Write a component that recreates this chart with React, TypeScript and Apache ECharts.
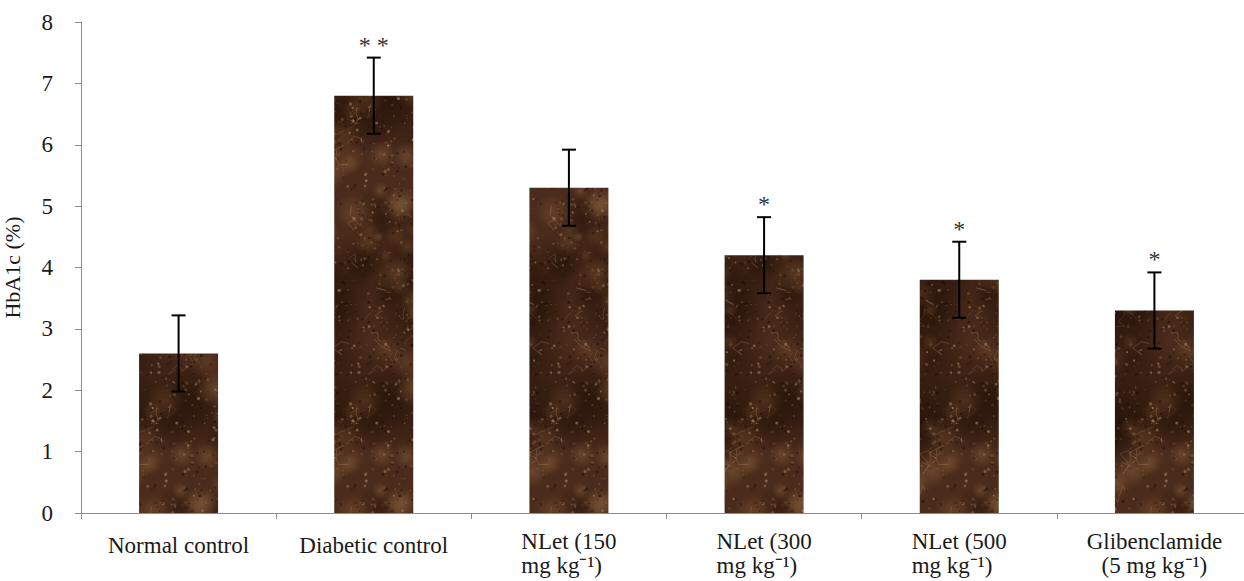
import React, { useEffect, useRef } from "react";
import * as echarts from "echarts";

const categories = [
  "Normal control",
  "Diabetic control",
  "NLet (150\nmg kg⁻¹)",
  "NLet (300\nmg kg⁻¹)",
  "NLet (500\nmg kg⁻¹)",
  "Glibenclamide\n(5 mg kg⁻¹)",
];
const labelLeftAligned = [false, false, true, true, true, false];
const means = [2.6, 6.8, 5.3, 4.2, 3.8, 3.3];
const errors = [0.62, 0.62, 0.62, 0.62, 0.62, 0.62];
const significance = ["", "**", "", "*", "*", "*"];
const yMin = 0;
const yMax = 8;
const yInterval = 1;
const yAxisTitle = "HbA1c (%)";

const FONT = "'Liberation Serif', 'Times New Roman', serif";

function hash(n: number): number {
  const s = Math.sin(n * 12.9898 + 78.233) * 43758.5453;
  return s - Math.floor(s);
}

function makeTexture(): HTMLCanvasElement {
  const c = document.createElement("canvas");
  c.width = 200;
  c.height = 300;
  const ctx = c.getContext("2d")!;
  ctx.fillStyle = "#4b2c1c";
  ctx.fillRect(0, 0, c.width, c.height);
  const blob = (x: number, y: number, r: number, rgb: string, a: number) => {
    for (const dx of [-c.width, 0, c.width]) {
      for (const dy of [-c.height, 0, c.height]) {
        const g = ctx.createRadialGradient(x + dx, y + dy, 0, x + dx, y + dy, r);
        g.addColorStop(0, `rgba(${rgb},${a})`);
        g.addColorStop(1, `rgba(${rgb},0)`);
        ctx.fillStyle = g;
        ctx.fillRect(x + dx - r, y + dy - r, r * 2, r * 2);
      }
    }
  };
  for (let i = 0; i < 30; i++) {
    blob(hash(i * 3.1) * c.width, hash(i * 7.7 + 1) * c.height, 18 + hash(i * 5.3 + 2) * 28, "34,16,7", 0.6);
  }
  for (let i = 0; i < 80; i++) {
    const v = hash(i * 6.7 + 40);
    const rgb = v > 0.6 ? "150,108,68" : "118,78,46";
    blob(hash(i * 2.3 + 50) * c.width, hash(i * 4.9 + 60) * c.height, 5 + hash(i * 3.7 + 70) * 14, rgb, 0.4);
  }
  for (let i = 0; i < 1200; i++) {
    const x = hash(i * 1.37 + 100) * c.width;
    const y = hash(i * 2.91 + 200) * c.height;
    const r = 0.5 + hash(i * 4.11 + 300) * 1.2;
    const v = hash(i * 6.7 + 400);
    const col = v > 0.75 ? "180,145,105" : v > 0.4 ? "125,86,55" : "28,12,5";
    ctx.fillStyle = `rgba(${col},${0.25 + hash(i + 500) * 0.35})`;
    ctx.beginPath();
    ctx.arc(x, y, r, 0, Math.PI * 2);
    ctx.fill();
  }
  ctx.lineWidth = 0.8;
  for (let i = 0; i < 45; i++) {
    let x = hash(i * 8.3 + 600) * c.width;
    let y = hash(i * 9.1 + 700) * c.height;
    ctx.strokeStyle = `rgba(170,135,95,${0.2 + hash(i + 950) * 0.25})`;
    ctx.beginPath();
    ctx.moveTo(x, y);
    for (let k = 0; k < 6; k++) {
      x += (hash(i * 13 + k * 3 + 800) - 0.5) * 20;
      y += (hash(i * 17 + k * 5 + 900) - 0.5) * 20;
      ctx.lineTo(x, y);
    }
    ctx.stroke();
  }
  return c;
}

export default function App() {
  const ref = useRef<HTMLDivElement>(null);
  useEffect(() => {
    if (!ref.current) return;
    const chart = echarts.init(ref.current, undefined, { renderer: "svg" });
    const tex = makeTexture();
    const labelStyle = { fontFamily: FONT, fontSize: 23, lineHeight: 24, color: "#1a1a1a" };
    const option: any = {
      animation: false,
      backgroundColor: "#ffffff",
      grid: { left: 81, right: -8, top: 22, bottom: 68, containLabel: false, outerBoundsMode: "none" },
      xAxis: {
        type: "category",
        data: categories,
        axisLine: { lineStyle: { color: "#8c8c8c", width: 1 } },
        axisTick: { show: true, alignWithLabel: false, length: 6, lineStyle: { color: "#8c8c8c" } },
        axisLabel: {
          interval: 0,
          ...labelStyle,
          margin: 16,
          formatter: (value: string, idx: number) => {
            const lines = value.split("\n");
            if (lines.length === 1) return `{s|${value}}`;
            const tag = labelLeftAligned[idx] ? "l" : "c";
            return lines.map((ln) => `{${tag}|${ln}}`).join("\n");
          },
          rich: {
            l: { ...labelStyle, align: "left" },
            c: { ...labelStyle, align: "center" },
            s: { ...labelStyle, align: "center", padding: [8, 0, 0, 0] },
          },
        },
      },
      yAxis: {
        type: "value",
        min: yMin,
        max: yMax,
        interval: yInterval,
        name: yAxisTitle,
        nameLocation: "middle",
        nameGap: 58,
        nameRotate: 90,
        nameTextStyle: { color: "#1a1a1a", fontFamily: FONT, fontSize: 22 },
        axisLine: { show: true, lineStyle: { color: "#8c8c8c", width: 1 } },
        axisTick: { show: true, length: 6, lineStyle: { color: "#8c8c8c" } },
        splitLine: { show: false },
        axisLabel: { color: "#1a1a1a", fontFamily: FONT, fontSize: 23, margin: 28 },
      },
      series: [
        {
          type: "bar",
          data: means,
          barWidth: 79,
          itemStyle: { color: { image: tex, repeat: "repeat" } },
        },
        {
          type: "custom",
          data: means.map((m, i) => [i, m, errors[i]]),
          z: 10,
          renderItem: (params: any, api: any) => {
            const x = api.value(0);
            const m = api.value(1);
            const e = api.value(2);
            const top = api.coord([x, m + e]);
            const bot = api.coord([x, m - e]);
            const cap = 7;
            const style = { stroke: "#000", lineWidth: 2 };
            const children: any[] = [
              { type: "line", shape: { x1: top[0], y1: top[1], x2: bot[0], y2: bot[1] }, style },
              { type: "line", shape: { x1: top[0] - cap, y1: top[1], x2: top[0] + cap, y2: top[1] }, style },
              { type: "line", shape: { x1: bot[0] - cap, y1: bot[1], x2: bot[0] + cap, y2: bot[1] }, style },
            ];
            const sig = significance[params.dataIndex];
            if (sig) {
              children.push({
                type: "text",
                style: {
                  text: sig.split("").join(" "),
                  x: top[0],
                  y: top[1] - 1,
                  align: "center",
                  verticalAlign: "bottom",
                  fontFamily: FONT,
                  fontSize: 24,
                  fill: "#333",
                },
              });
            }
            return { type: "group", children };
          },
        },
      ],
    };
    chart.setOption(option);
    return () => chart.dispose();
  }, []);
  return (
    <div
      ref={ref}
      style={{ position: "fixed", left: 0, top: 0, width: 1244, height: 581, background: "#fff" }}
    />
  );
}
